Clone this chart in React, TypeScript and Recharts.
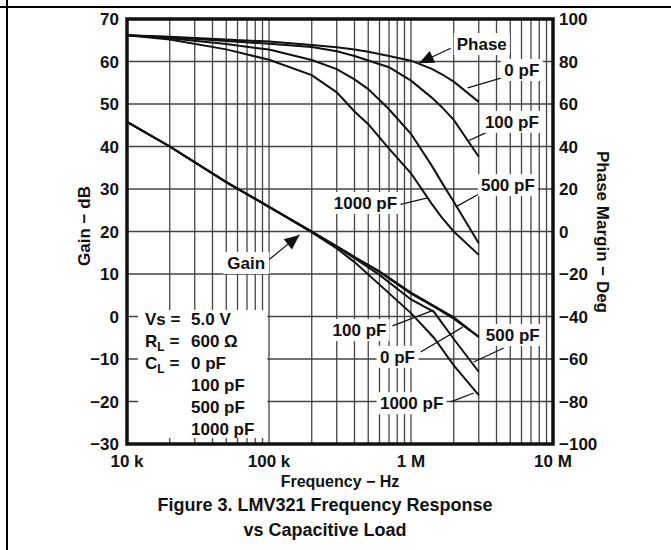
import React from 'react';
import {
  LineChart,
  Line,
  XAxis,
  YAxis,
  CartesianGrid,
  ReferenceArea,
  ReferenceLine,
  ReferenceDot,
} from 'recharts';

// frequency points (Hz)
const phaseFreq = [1e4, 2e4, 5e4, 1e5, 2e5, 3e5, 4e5, 5e5, 7e5, 1e6, 1.4e6, 1.65e6, 2e6, 3e6];
const phase0pF = [92.3, 91.7, 90.4, 89.4, 87.8, 86.7, 85.6, 84.6, 82.6, 80.4, 76.5, 74, 70.5, 61];
const phase100pF = [92.3, 91.4, 89.6, 88.4, 86.8, 84.8, 82.6, 80.5, 77.3, 71, 63, 58.5, 52.5, 35.2];
const phase500pF = [92.3, 90.9, 88.2, 85.6, 80.7, 76.4, 71.6, 67, 57.5, 46, 31, 23, 14, -5.5];
const phase1000pF = [92.3, 90.4, 85.7, 80.8, 73.6, 65.5, 56.5, 50.5, 39, 27.4, 13, 6.5, 0, -11];

const gainFreq = [1e4, 2e4, 5e4, 1e5, 2e5, 3e5, 4e5, 6e5, 1e6, 1.45e6, 2e6, 3e6];
const gain0pF = [45.8, 40, 31.6, 25.8, 20, 16.5, 14, 10.6, 5.6, 2.5, -0.2, -4.8];
const gain100pF = [45.8, 40, 31.6, 25.8, 20, 16.5, 14, 10.5, 5.4, 2.3, -0.5, -4.8];
const gain500pF = [45.8, 40, 31.6, 25.8, 20, 16.4, 13.7, 9.8, 4, 1.1, -5.3, -13];
const gain1000pF = [45.8, 40, 31.6, 25.8, 19.8, 16, 12.8, 7.5, 0.8, -5, -11.5, -18.5];

const xTicks = [
  1e4, 2e4, 3e4, 4e4, 5e4, 6e4, 7e4, 8e4, 9e4,
  1e5, 2e5, 3e5, 4e5, 5e5, 6e5, 7e5, 8e5, 9e5,
  1e6, 2e6, 3e6, 4e6, 5e6, 6e6, 7e6, 8e6, 9e6, 1e7,
];
const gainTicks = [-30, -20, -10, 0, 10, 20, 30, 40, 50, 60, 70];
const phaseTicks = [-100, -80, -60, -40, -20, 0, 20, 40, 60, 80, 100];

// callouts: text, frequency, gain-axis value of centre, box width
const callouts = [
  { text: 'Phase', f: 3.15e6, g: 64.1, w: 56 },
  { text: '0 pF', f: 6.03e6, g: 58, w: 42 },
  { text: '100 pF', f: 5.13e6, g: 45.8, w: 60 },
  { text: '500 pF', f: 4.81e6, g: 30.9, w: 60 },
  { text: '1000 pF', f: 4.78e5, g: 26.7, w: 70 },
  { text: 'Gain', f: 6.91e4, g: 12.6, w: 46 },
  { text: '100 pF', f: 4.34e5, g: -3.2, w: 60 },
  { text: '0 pF', f: 8.04e5, g: -9.5, w: 42 },
  { text: '500 pF', f: 5.21e6, g: -4.35, w: 60 },
  { text: '1000 pF', f: 1.01e6, g: -20.4, w: 70 },
];

const leaders = [
  { f1: 1.903e6, g1: 63.1, f2: 1.137e6, g2: 59.6 },
  { f1: 4.29e6, g1: 56.1, f2: 2.51e6, g2: 53.8 },
  { f1: 3.36e6, g1: 43.2, f2: 2.51e6, g2: 41.3 },
  { f1: 3.2e6, g1: 29.3, f2: 2.064e6, g2: 25.8 },
  { f1: 8.04e5, g1: 26.2, f2: 1.31e6, g2: 27.9 },
  { f1: 9.93e4, g1: 13.3, f2: 1.64e5, g2: 19.2 },
  { f1: 7.41e5, g1: -2.2, f2: 1.444e6, g2: 1.5 },
  { f1: 1.169e6, g1: -8.35, f2: 2.313e6, g2: -2.5 },
  { f1: 4.5e6, g1: -7.4, f2: 2.765e6, g2: -10.7 },
  { f1: 1.903e6, g1: -20.1, f2: 2.765e6, g2: -18 },
];

const arrowHeads = [
  { f: 1.137e6, g: 59.6, angle: 154.7 },
  { f: 1.64e5, g: 19.2, angle: -38.9 },
];

const conditionRows = [
  { label: 'Vs =', sub: '', value: '5.0 V' },
  { label: 'R', sub: 'L', value: '600 Ω' },
  { label: 'C', sub: 'L', value: '0 pF' },
  { label: '', sub: '', value: '100 pF' },
  { label: '', sub: '', value: '500 pF' },
  { label: '', sub: '', value: '1000 pF' },
];

const toPts = (fs: number[], vs: number[]) => fs.map((f, i) => ({ f, v: vs[i] }));

const FONT = '"Liberation Sans", Arial, sans-serif';
const tickStyle = { fontSize: 17, fontWeight: 700, fill: '#111', fontFamily: FONT };

const fmtFreq = (v: number) => {
  if (v === 1e4) return '10 k';
  if (v === 1e5) return '100 k';
  if (v === 1e6) return '1 M';
  if (v === 1e7) return '10 M';
  return '';
};
const fmtNum = (v: number) => (v < 0 ? '\u2212' + Math.abs(v) : String(v));

function Callout(props: any) {
  const { cx, cy, text, w } = props;
  return (
    <g>
      <rect x={cx - w / 2} y={cy - 11} width={w} height={22} fill="#fff" />
      <text
        x={cx}
        y={cy + 6}
        textAnchor="middle"
        fontSize={17}
        fontWeight={700}
        fontFamily={FONT}
        fill="#111"
      >
        {text}
      </text>
    </g>
  );
}

function ArrowHead(props: any) {
  const { cx, cy, angle } = props;
  const a = (angle * Math.PI) / 180;
  const L = 15;
  const W = 6.5;
  const bx = cx - L * Math.cos(a);
  const by = cy - L * Math.sin(a);
  const px = -Math.sin(a) * W;
  const py = Math.cos(a) * W;
  return (
    <polygon
      points={`${cx},${cy} ${bx + px},${by + py} ${bx - px},${by - py}`}
      fill="#111"
    />
  );
}

function Conditions(props: any) {
  const { cx, cy } = props;
  return (
    <g fontFamily={FONT} fontSize={17} fontWeight={700} fill="#111">
      {conditionRows.map((r, i) => (
        <g key={i}>
          {r.label && (
            <text x={cx + 7} y={cy + 15 + i * 22}>
              <tspan>{r.label}</tspan>
              {r.sub && (
                <tspan fontSize={12} dy={4}>
                  {r.sub}
                </tspan>
              )}
              {r.sub && <tspan dy={-4}> =</tspan>}
            </text>
          )}
          <text x={cx + 53} y={cy + 15 + i * 22}>
            {r.value}
          </text>
        </g>
      ))}
    </g>
  );
}

export default function App() {
  const lineProps = {
    stroke: '#111',
    strokeWidth: 2,
    dot: false,
    type: 'linear' as const,
    isAnimationActive: false,
  };
  return (
    <div
      style={{
        position: 'absolute',
        left: 0,
        top: 0,
        width: 671,
        height: 550,
        background: '#fff',
        fontFamily: FONT,
        overflow: 'hidden',
      }}
    >
      <div style={{ position: 'absolute', left: 0, top: 6, width: 671, height: 1.5, background: '#000' }} />
      <div style={{ position: 'absolute', left: 6, top: 0, width: 1.5, height: 550, background: '#000' }} />

      <div style={{ position: 'absolute', left: 0, top: 0 }}>
        <LineChart width={671} height={550} margin={{ top: 19, left: 67, right: 58, bottom: 66 }}>
          <CartesianGrid
            yAxisId="left"
            stroke="#444"
            strokeWidth={1.3}
            vertical
            horizontal
          />
          <XAxis
            dataKey="f"
            type="number"
            scale="log"
            domain={[1e4, 1e7]}
            ticks={xTicks}
            tickFormatter={fmtFreq}
            allowDataOverflow
            axisLine={false}
            tickLine={false}
            tickSize={0}
            tickMargin={11}
            height={40}
            tick={tickStyle}
            interval={0}
          />
          <YAxis
            yAxisId="left"
            domain={[-30, 70]}
            ticks={gainTicks}
            tickFormatter={fmtNum}
            axisLine={false}
            tickLine={false}
            tickSize={0}
            tickMargin={8}
            width={60}
            tick={tickStyle}
            interval={0}
          />
          <YAxis
            yAxisId="right"
            orientation="right"
            domain={[-100, 100]}
            ticks={phaseTicks}
            tickFormatter={fmtNum}
            axisLine={false}
            tickLine={false}
            tickSize={0}
            tickMargin={6}
            width={60}
            tick={{ ...tickStyle, textAnchor: 'start' }}
            interval={0}
          />

          <ReferenceArea
            yAxisId="left"
            x1={11960}
            x2={97300}
            y1={-28.6}
            y2={1.53}
            fill="#fff"
            fillOpacity={1}
            stroke="none"
          />
          {callouts.map((c, i) => (
            <ReferenceDot
              key={'c' + i}
              yAxisId="left"
              x={c.f}
              y={c.g}
              r={0}
              ifOverflow="visible"
              shape={(p: any) => <Callout {...p} text={c.text} w={c.w} />}
            />
          ))}

          <Line yAxisId="right" data={toPts(phaseFreq, phase0pF)} dataKey="v" {...lineProps} />
          <Line yAxisId="right" data={toPts(phaseFreq, phase100pF)} dataKey="v" {...lineProps} />
          <Line yAxisId="right" data={toPts(phaseFreq, phase500pF)} dataKey="v" {...lineProps} />
          <Line yAxisId="right" data={toPts(phaseFreq, phase1000pF)} dataKey="v" {...lineProps} />
          <Line yAxisId="left" data={toPts(gainFreq, gain0pF)} dataKey="v" {...lineProps} />
          <Line yAxisId="left" data={toPts(gainFreq, gain100pF)} dataKey="v" {...lineProps} />
          <Line yAxisId="left" data={toPts(gainFreq, gain500pF)} dataKey="v" {...lineProps} />
          <Line yAxisId="left" data={toPts(gainFreq, gain1000pF)} dataKey="v" {...lineProps} />

          {leaders.map((s, i) => (
            <ReferenceLine
              key={'l' + i}
              yAxisId="left"
              segment={[
                { x: s.f1, y: s.g1 },
                { x: s.f2, y: s.g2 },
              ]}
              stroke="#111"
              strokeWidth={1.2}
              ifOverflow="visible"
            />
          ))}
          {arrowHeads.map((a, i) => (
            <ReferenceDot
              key={'a' + i}
              yAxisId="left"
              x={a.f}
              y={a.g}
              r={0}
              ifOverflow="visible"
              shape={(p: any) => <ArrowHead {...p} angle={a.angle} />}
            />
          ))}
          <ReferenceDot
            yAxisId="left"
            x={11960}
            y={1.53}
            r={0}
            ifOverflow="visible"
            shape={(p: any) => <Conditions {...p} />}
          />

          <ReferenceArea
            yAxisId="left"
            x1={1e4}
            x2={1e7}
            y1={-30}
            y2={70}
            fill="none"
            stroke="#111"
            strokeWidth={3.5}
            ifOverflow="visible"
          />
        </LineChart>
      </div>

      <div
        style={{
          position: 'absolute',
          left: 85,
          top: 226,
          transform: 'translate(-50%, -50%) rotate(-90deg)',
          whiteSpace: 'nowrap',
          fontSize: 17,
          fontWeight: 700,
          color: '#111',
        }}
      >
        Gain − dB
      </div>
      <div
        style={{
          position: 'absolute',
          left: 602,
          top: 232,
          transform: 'translate(-50%, -50%) rotate(90deg)',
          whiteSpace: 'nowrap',
          fontSize: 17,
          fontWeight: 700,
          color: '#111',
        }}
      >
        Phase Margin − Deg
      </div>
      <div
        style={{
          position: 'absolute',
          left: 340,
          top: 482,
          transform: 'translate(-50%, -50%)',
          whiteSpace: 'nowrap',
          fontSize: 16,
          fontWeight: 700,
          color: '#111',
        }}
      >
        Frequency − Hz
      </div>
      <div
        style={{
          position: 'absolute',
          left: 325,
          top: 518,
          transform: 'translate(-50%, -50%)',
          whiteSpace: 'nowrap',
          fontSize: 18,
          fontWeight: 700,
          color: '#111',
          textAlign: 'center',
          lineHeight: '25px',
        }}
      >
        Figure 3. LMV321 Frequency Response
        <br />
        vs Capacitive Load
      </div>
    </div>
  );
}
